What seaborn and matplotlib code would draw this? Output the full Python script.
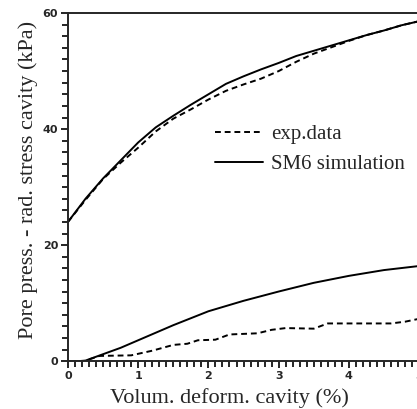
import pandas as pd
import matplotlib as mpl
import matplotlib.pyplot as plt
import seaborn as sns
from matplotlib.ticker import MultipleLocator

# volumetric deformation of the cavity (%) vs. pore press. - rad. stress (kPa)
upper_sim_x = [0.0, 0.25, 0.5, 0.75, 1.0, 1.25, 1.5, 1.75, 2.0, 2.25, 2.5, 2.75,
               3.0, 3.25, 3.5, 3.75, 4.0, 4.25, 4.5, 4.75, 5.0]
upper_sim_y = [24.0, 28.0, 31.5, 34.6, 37.7, 40.3, 42.3, 44.2, 46.0, 47.8, 49.1, 50.3,
               51.4, 52.6, 53.5, 54.4, 55.3, 56.2, 57.0, 57.9, 58.6]

upper_exp_x = [0.0, 0.25, 0.5, 0.75, 1.0, 1.25, 1.5, 1.75, 2.0, 2.25, 2.5, 2.75,
               3.0, 3.25, 3.5, 3.75, 4.0, 4.25, 4.5, 4.75, 5.0]
upper_exp_y = [24.0, 27.8, 31.4, 34.2, 36.8, 39.6, 41.8, 43.4, 45.1, 46.6, 47.7, 48.7,
               50.0, 51.6, 53.0, 54.1, 55.2, 56.2, 57.0, 57.9, 58.6]

lower_sim_x = [0.0, 0.15, 0.25, 0.5, 0.75, 1.0, 1.25, 1.5, 1.75, 2.0, 2.5, 3.0,
               3.5, 4.0, 4.5, 5.0]
lower_sim_y = [0.0, 0.0, 0.1, 1.2, 2.3, 3.6, 4.9, 6.2, 7.4, 8.6, 10.4, 12.0,
               13.5, 14.7, 15.7, 16.4]

lower_exp_x = [0.3, 0.45, 0.9, 1.2, 1.5, 1.7, 1.85, 2.1, 2.3, 2.7, 2.9, 3.1,
               3.5, 3.7, 4.6, 4.8, 5.0]
lower_exp_y = [0.3, 0.9, 1.0, 1.8, 2.8, 3.0, 3.6, 3.7, 4.6, 4.8, 5.4, 5.7,
               5.6, 6.5, 6.5, 6.8, 7.3]

sns.set_style("ticks")
plt.rcParams['font.family'] = ['Liberation Serif', 'DejaVu Serif']
mpl.rcParams['axes.linewidth'] = 1.4

fig = plt.figure(figsize=(4.17, 4.09), dpi=100)
ax = fig.add_axes([0.163, 0.117, 0.842, 0.851])

sns.lineplot(x=upper_exp_x, y=upper_exp_y, ax=ax, color='black', lw=1.4,
             linestyle=(0, (3, 2)), label='exp.data')
sns.lineplot(x=upper_sim_x, y=upper_sim_y, ax=ax, color='black', lw=1.4,
             label='SM6 simulation')
sns.lineplot(x=lower_exp_x, y=lower_exp_y, ax=ax, color='black', lw=1.4,
             linestyle=(0, (3, 2)))
sns.lineplot(x=lower_sim_x, y=lower_sim_y, ax=ax, color='black', lw=1.4)

ax.set_xlim(0, 5)
ax.set_ylim(0, 60)
ax.xaxis.set_major_locator(MultipleLocator(1))
ax.xaxis.set_minor_locator(MultipleLocator(0.1))
ax.yaxis.set_major_locator(MultipleLocator(20))
ax.yaxis.set_minor_locator(MultipleLocator(2))
ax.tick_params(which='both', direction='out', width=1.2, color='black')
ax.tick_params(which='major', length=5, pad=2)
ax.tick_params(which='minor', length=4)
for lab in ax.get_xticklabels() + ax.get_yticklabels():
    lab.set_family('DejaVu Sans')
    lab.set_fontweight('bold')
    lab.set_fontsize(8)

ax.set_xlabel('Volum. deform. cavity (%)', fontsize=16)
ax.set_ylabel('Pore press. - rad. stress cavity (kPa)', fontsize=16)
ax.xaxis.set_label_coords(0.46, -0.076)
ax.yaxis.set_label_coords(-0.085, 0.52)

ax.legend(loc='upper left', bbox_to_anchor=(0.42, 0.68), frameon=False,
          fontsize=15, handlelength=2.3, handletextpad=0.35, labelspacing=0.5,
          borderpad=0, borderaxespad=0)

fig.savefig('out.png', dpi=100)
